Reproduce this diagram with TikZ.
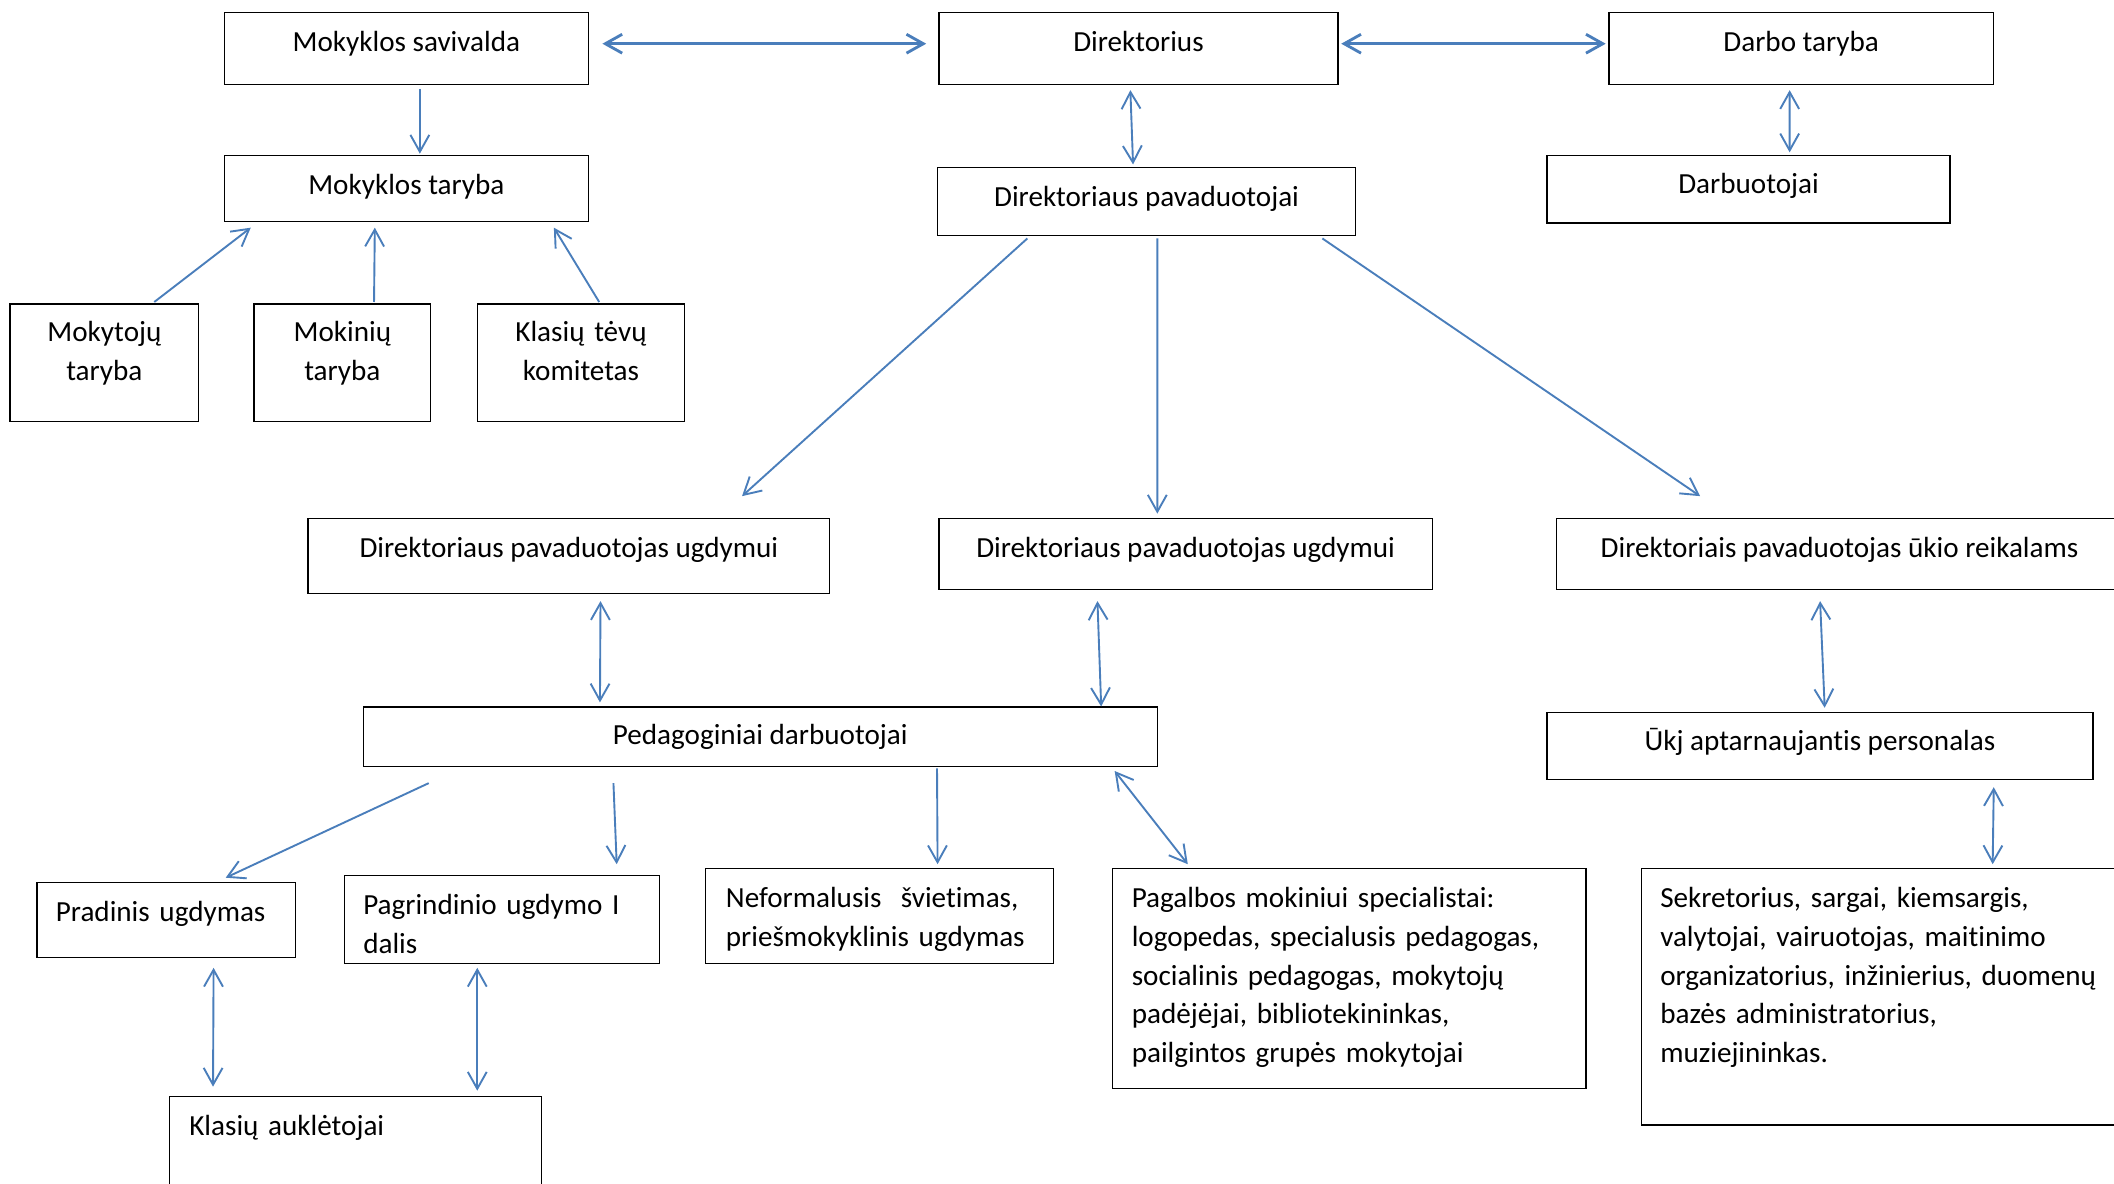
\documentclass[tikz,border=0pt]{standalone}
\usepackage{fontspec}
\setmainfont{Carlito}[Ligatures=NoCommon]
\usetikzlibrary{arrows.meta,calc}
\definecolor{melyna}{HTML}{4A7EBB}
\frenchspacing

\begin{document}
\begin{tikzpicture}[x=0.02cm, y=-0.02cm, line width=0.8pt,
  >={Straight Barb[length=0.25cm,width=0.28cm]},
  box/.style={draw=black, line width=0.5pt, anchor=north west, inner sep=0pt,
    font=\fontsize{12.3}{16.3}\selectfont, text height=0.58cm},
  kairen/.style={box, inner xsep=0.28cm, align=left},
  rodykle/.style={draw=melyna, ->},
  abi/.style={draw=melyna, <->}]
\useasboundingbox (0,0) rectangle (1568,878);
% top row
\node[box, minimum width=5.4cm, text depth=0.48cm] (ms) at (166,9) {Mokyklos savivalda};
\node[box, minimum width=5.92cm, text depth=0.48cm] (dir) at (696,9) {Direktorius};
\node[box, minimum width=5.7cm, text depth=0.48cm] (dt) at (1193,9) {Darbo taryba};
% second row
\node[box, minimum width=5.4cm, text depth=0.40cm] (mst) at (166,115) {Mokyklos taryba};
\node[box, minimum width=6.2cm, text depth=0.42cm] (dp) at (695,124) {Direktoriaus pavaduotojai};
\node[box, minimum width=5.98cm, text height=0.56cm, text depth=0.44cm] (darb) at (1147,115) {Darbuotojai};
% councils
\node[box, text width=2.8cm, align=center, text height=0.56cm, text depth=1.18cm] (mkt) at (7,225) {Mokytojų\\taryba};
\node[box, text width=2.62cm, align=center, text height=0.56cm, text depth=1.18cm] (mkn) at (188,225) {Mokinių\\taryba};
\node[box, text width=3.06cm, align=center, text height=0.56cm, text depth=1.18cm] (ktk) at (354,225) {Klasių tėvų\\komitetas};
% deputies
\node[box, minimum width=7.74cm, text depth=0.54cm] (dpu1) at (228,384) {Direktoriaus pavaduotojas ugdymui};
\node[box, minimum width=7.32cm, text depth=0.48cm] (dpu2) at (696,384) {Direktoriaus pavaduotojas ugdymui};
\node[box, minimum width=8.4cm, text depth=0.48cm] (dpuk) at (1154,384) {Direktoriais pavaduotojas ūkio reikalams};
% staff
\node[box, minimum width=11.78cm, text height=0.56cm, text depth=0.32cm] (ped) at (269,524) {Pedagoginiai darbuotojai};
\node[box, minimum width=8.1cm, text height=0.56cm, text depth=0.44cm] (ukj) at (1147,528) {Ūkj aptarnaujantis personalas};
% bottom boxes
\node[kairen, text width=3.28cm, text depth=0.54cm] (prad) at (27,654) {Pradinis ugdymas};
\node[kairen, text width=4.12cm, text depth=0.72cm] (pagr) at (255,649) {Pagrindinio ugdymo I\\dalis};
\node[kairen, inner xsep=0.3cm, text width=4.56cm, text depth=0.82cm] (nef) at (523,644) {Neformalusis\ \ švietimas,\\priešmokyklinis ugdymas};
\node[kairen, text width=6.46cm, text depth=2.68cm] (pag) at (825,644) {Pagalbos mokiniui specialistai:\\logopedas, specialusis pedagogas,\\socialinis pedagogas, mokytojų\\padėjėjai, bibliotekininkas,\\pailgintos grupės mokytojai};
\node[kairen, text width=6.9cm, text depth=3.22cm] (sek) at (1217,644) {Sekretorius, sargai, kiemsargis,\\valytojai, vairuotojas, maitinimo\\organizatorius, inžinierius, duomenų\\bazės administratorius,\\muziejininkas.};
\node[kairen, inner xsep=0.3cm, text width=4.92cm, text depth=1.16cm] (ka) at (125,813) {Klasių auklėtojai};
% arrows top
\draw[abi, line width=1.2pt] ($(ms.east)+(10,-3.5)$) -- ($(dir.west)+(-9,-3.5)$);
\draw[abi, line width=1.2pt] ($(dir.east)+(2,-3.5)$) -- ($(dt.west)+(-2,-3.5)$);
\draw[rodykle] ($(ms.south)+(10,3)$) -- ($(mst.north)+(10,-1)$);
\draw[abi] ($(dir.south)+(-6,4)$) -- ($(dp.north)+(-10,-2)$);
\draw[abi] ($(dt.south)+(-8.5,4)$) -- ($(darb.north)+(30.5,-2)$);
% arrows to Mokyklos taryba
\draw[rodykle] ($(mkt.north)+(37,-1)$) -- ($(mst.south west)+(20,4)$);
\draw[rodykle] ($(mkn.north)+(23.5,-1)$) -- ($(mst.south west)+(112,4)$);
\draw[rodykle] ($(ktk.north)+(13.5,-1)$) -- ($(mst.south east)+(-26,4)$);
% arrows to deputies
\draw[rodykle] ($(dp.south west)+(67,2)$) -- ($(dpu1.north)+(128.5,-16)$);
\draw[rodykle] ($(dp.south)+(8,2)$) -- ($(dpu2.north)+(-21,-3)$);
\draw[rodykle] ($(dp.south east)+(-25,2)$) -- ($(dpuk.north west)+(107,-16)$);
\draw[abi] ($(dpu1.south)+(23.5,5)$) -- ($(ped.north west)+(176,-3)$);
\draw[abi] ($(dpu2.south west)+(118,8)$) -- ($(ped.north east)+(-42,0)$);
\draw[abi] ($(dpuk.south west)+(196,8)$) -- ($(ukj.north)+(3.5,-3)$);
% arrows to bottom boxes
\draw[rodykle] ($(ped.south west)+(49,12)$) -- ($(prad.north)+(44,-3)$);
\draw[rodykle] ($(ped.south west)+(186,12)$) -- ($(pagr.north)+(85,-8)$);
\draw[rodykle] ($(ped.south west)+(426,1)$) -- ($(nef.north)+(43,-3)$);
\draw[abi] ($(ped.south east)+(-32,3)$) -- ($(pag.north west)+(56,-3)$);
\draw[abi] ($(ukj.south east)+(-74,5)$) -- ($(sek.north west)+(261,-3)$);
\draw[abi] ($(prad.south)+(35,7)$) -- ($(ka.north west)+(33,-7)$);
\draw[abi] ($(pagr.south west)+(99,3)$) -- ($(ka.north west)+(229,-4)$);
\end{tikzpicture}
\end{document}
